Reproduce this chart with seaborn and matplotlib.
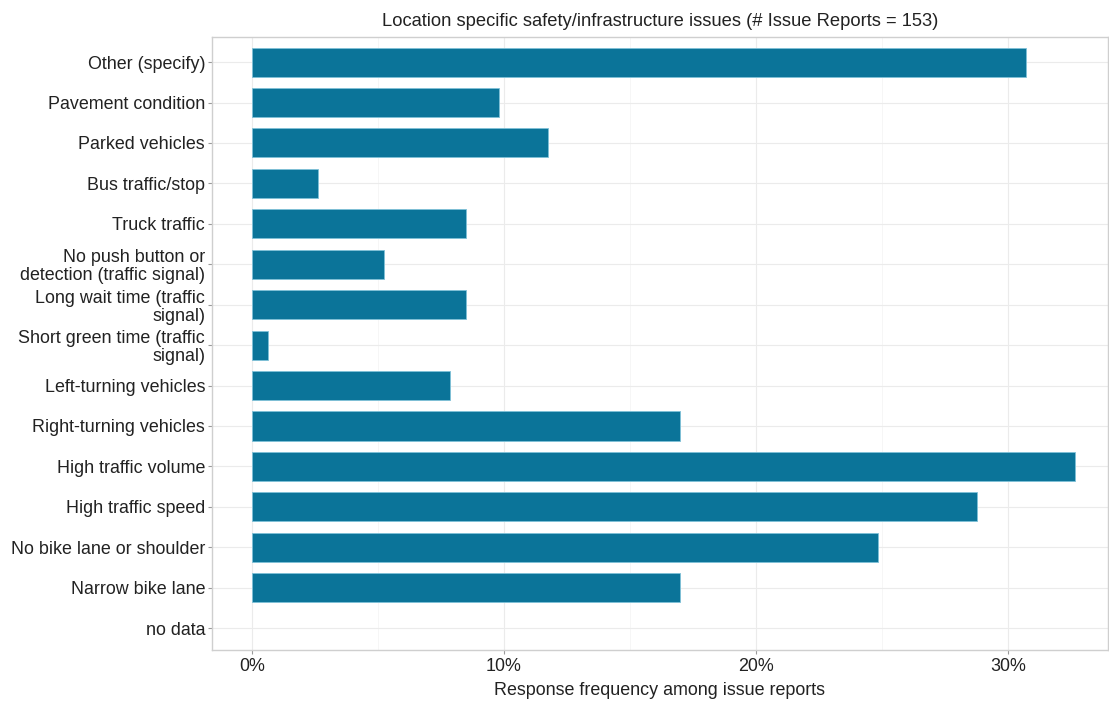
import pandas as pd
import numpy as np
import matplotlib
matplotlib.use("Agg")
import matplotlib.pyplot as plt
import seaborn as sns
from matplotlib.ticker import FuncFormatter, MultipleLocator

# categories, top to bottom as shown
issues = [
    "Other (specify)",
    "Pavement condition",
    "Parked vehicles",
    "Bus traffic/stop",
    "Truck traffic",
    "No push button or\ndetection (traffic signal)",
    "Long wait time (traffic\nsignal)",
    "Short green time (traffic\nsignal)",
    "Left-turning vehicles",
    "Right-turning vehicles",
    "High traffic volume",
    "High traffic speed",
    "No bike lane or shoulder",
    "Narrow bike lane",
    "no data",
]
# share of issue reports (%)
share = [30.72, 9.80, 11.76, 2.61, 8.50, 5.23, 8.50, 0.65,
         7.84, 16.99, 32.68, 28.76, 24.84, 16.99, 0.0]
x_ticks = [0, 10, 20, 30]

df = pd.DataFrame({"issue": issues, "share": share})

sns.set_theme(style="whitegrid")
plt.rcParams["font.family"] = ["Liberation Sans", "DejaVu Sans"]

fig = plt.figure(figsize=(11.09, 7.01), dpi=100)
ax = fig.add_axes([212 / 1109, 1 - 650 / 701, (1108 - 212) / 1109, (650 - 37) / 701])

sns.barplot(data=df, x="share", y="issue", order=issues, orient="h",
            color="#0b7499", saturation=1, width=0.72,
            edgecolor="#7fc1d8", linewidth=0.6, ax=ax)
# no outline on empty bars
for p in ax.patches:
    if p.get_width() == 0:
        p.set_linewidth(0)

ax.set_xlim(-1.59, 33.97)
ax.set_ylim(len(issues) - 0.46, -0.62)
ax.xaxis.set_minor_locator(MultipleLocator(5))
ax.set_xticks(x_ticks)
ax.xaxis.set_major_formatter(FuncFormatter(lambda v, p: f"{v:.0f}%"))

ax.grid(True, which="major", color="#ebebeb", linewidth=0.8)
ax.grid(True, which="minor", axis="x", color="#f5f5f5", linewidth=0.6)
ax.set_axisbelow(True)
for s in ax.spines.values():
    s.set_color("#cfcfcf")
    s.set_linewidth(1.0)

ax.tick_params(axis="both", which="major", length=3, width=0.8, color="#9a9a9a",
               labelsize=12.9, labelcolor="#222222", pad=2, left=True, bottom=True)
ax.tick_params(axis="x", which="minor", length=0)
ax.tick_params(axis="x", pad=3)
for lbl in ax.get_yticklabels():
    lbl.set_horizontalalignment("right")
    lbl.set_linespacing(1.08)

ax.set_ylabel("")
ax.set_xlabel("Response frequency among issue reports", fontsize=12.9, color="#222222", labelpad=5)
ax.set_title("Location specific safety/infrastructure issues (# Issue Reports = 153)",
             fontsize=13.2, color="#222222", pad=8)

fig.savefig("out.png", dpi=100)
